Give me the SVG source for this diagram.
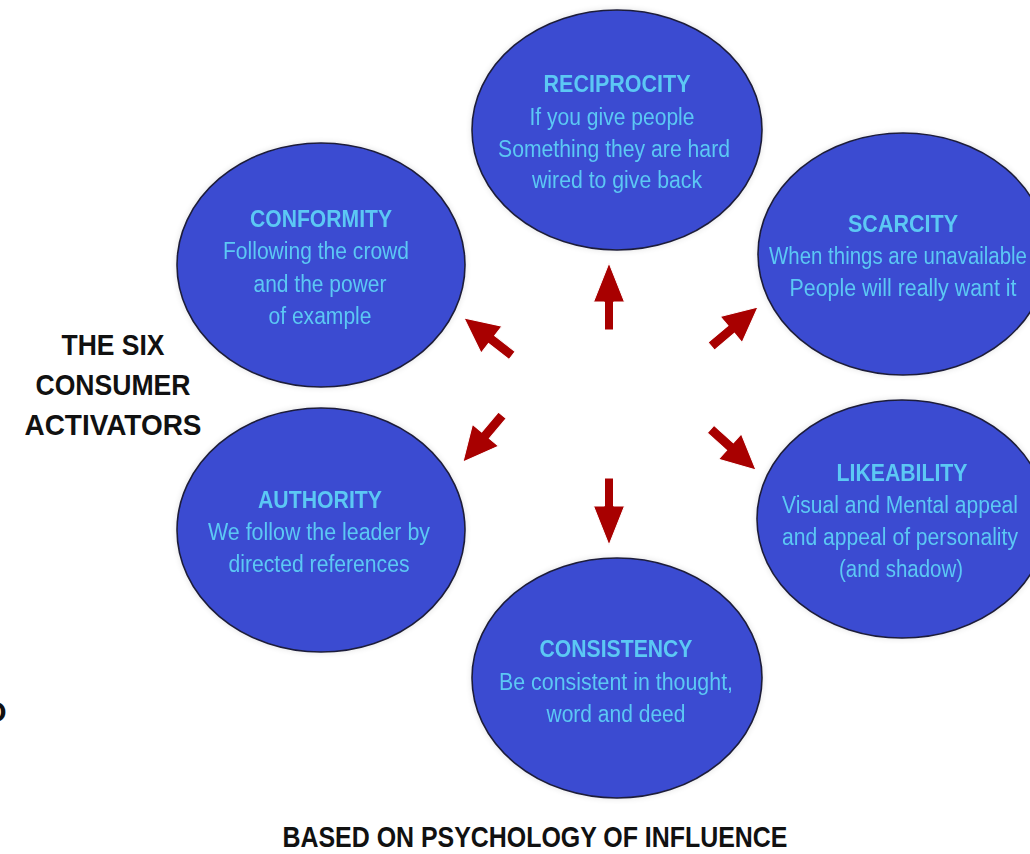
<svg xmlns="http://www.w3.org/2000/svg" width="1030" height="854" viewBox="0 0 1030 854">
<defs>
<style>
.node ellipse{fill:#3a4bd1;stroke:#1e1e3a;stroke-width:1.6}
.t{font-family:"Liberation Sans",Arial,sans-serif;font-weight:bold;font-size:23px;fill:#5cc8f4;text-anchor:middle}
.b{font-family:"Liberation Sans",Arial,sans-serif;font-size:23px;fill:#5cc8f4;text-anchor:middle}
.k{font-family:"Liberation Sans",Arial,sans-serif;font-weight:bold;font-size:30px;fill:#111;text-anchor:middle}
.arr{fill:#a80000;stroke:#fff;stroke-width:1}
</style>
<filter id="glow" x="-10%" y="-10%" width="120%" height="120%">
<feGaussianBlur in="SourceAlpha" stdDeviation="3"/>
<feComponentTransfer><feFuncA type="linear" slope="0.12"/></feComponentTransfer>
<feMerge><feMergeNode/><feMergeNode in="SourceGraphic"/></feMerge>
</filter>
<path id="av" d="M0,0 L15.5,39 L4.5,39 L4.5,67 L-4.5,67 L-4.5,39 L-15.5,39 Z"/>
<path id="ad" d="M0,0 L17,35 L5,35 L5,61 L-5,61 L-5,35 L-17,35 Z"/>
</defs>
<rect width="1030" height="854" fill="#fff"/>

<g id="reciprocity" class="node" filter="url(#glow)">
<ellipse cx="617" cy="130" rx="145" ry="120"/>
<text class="t" x="617" y="92" textLength="147" lengthAdjust="spacingAndGlyphs">RECIPROCITY</text>
<text class="b" x="612" y="125" textLength="165" lengthAdjust="spacingAndGlyphs">If you give people</text>
<text class="b" x="614" y="157" textLength="232" lengthAdjust="spacingAndGlyphs">Something they are hard</text>
<text class="b" x="617" y="188" textLength="170" lengthAdjust="spacingAndGlyphs">wired to give back</text>
</g>

<g id="scarcity" class="node" filter="url(#glow)">
<ellipse cx="903" cy="254" rx="145" ry="121"/>
<text class="t" x="903" y="232" textLength="110" lengthAdjust="spacingAndGlyphs">SCARCITY</text>
<text class="b" x="898" y="264" textLength="258" lengthAdjust="spacingAndGlyphs">When things are unavailable</text>
<text class="b" x="903" y="296" textLength="227" lengthAdjust="spacingAndGlyphs">People will really want it</text>
</g>

<g id="conformity" class="node" filter="url(#glow)">
<ellipse cx="321" cy="265" rx="144" ry="122"/>
<text class="t" x="321" y="227" textLength="142" lengthAdjust="spacingAndGlyphs">CONFORMITY</text>
<text class="b" x="316" y="259" textLength="186" lengthAdjust="spacingAndGlyphs">Following the crowd</text>
<text class="b" x="320" y="292" textLength="133" lengthAdjust="spacingAndGlyphs">and the power</text>
<text class="b" x="320" y="324" textLength="103" lengthAdjust="spacingAndGlyphs">of example</text>
</g>

<g id="authority" class="node" filter="url(#glow)">
<ellipse cx="321" cy="530" rx="144" ry="122"/>
<text class="t" x="320" y="508" textLength="124" lengthAdjust="spacingAndGlyphs">AUTHORITY</text>
<text class="b" x="319" y="540" textLength="222" lengthAdjust="spacingAndGlyphs">We follow the leader by</text>
<text class="b" x="319" y="572" textLength="181" lengthAdjust="spacingAndGlyphs">directed references</text>
</g>

<g id="consistency" class="node" filter="url(#glow)">
<ellipse cx="617" cy="678" rx="145" ry="120"/>
<text class="t" x="616" y="657" textLength="153" lengthAdjust="spacingAndGlyphs">CONSISTENCY</text>
<text class="b" x="616" y="690" textLength="234" lengthAdjust="spacingAndGlyphs">Be consistent in thought,</text>
<text class="b" x="616" y="722" textLength="139" lengthAdjust="spacingAndGlyphs">word and deed</text>
</g>

<g id="likeability" class="node" filter="url(#glow)">
<ellipse cx="902" cy="519" rx="145" ry="119"/>
<text class="t" x="902" y="481" textLength="131" lengthAdjust="spacingAndGlyphs">LIKEABILITY</text>
<text class="b" x="900" y="513" textLength="236" lengthAdjust="spacingAndGlyphs">Visual and Mental appeal</text>
<text class="b" x="900" y="545" textLength="236" lengthAdjust="spacingAndGlyphs">and appeal of personality</text>
<text class="b" x="901" y="577" textLength="124" lengthAdjust="spacingAndGlyphs">(and shadow)</text>
</g>

<g id="connectors" class="arr">
<use href="#av" transform="translate(609,263)"/>
<use href="#av" transform="translate(609,545) rotate(180)"/>
<use href="#ad" transform="translate(464,318) rotate(-52)"/>
<use href="#ad" transform="translate(758,307) rotate(50)"/>
<use href="#ad" transform="translate(463,462) rotate(-140)"/>
<use href="#ad" transform="translate(756,470) rotate(132)"/>
</g>

<g id="labels">
<text class="k" x="113" y="355" textLength="103" lengthAdjust="spacingAndGlyphs">THE SIX</text>
<text class="k" x="113" y="395" textLength="155" lengthAdjust="spacingAndGlyphs">CONSUMER</text>
<text class="k" x="113" y="435" textLength="177" lengthAdjust="spacingAndGlyphs">ACTIVATORS</text>
<text class="k" x="535" y="847" textLength="505" lengthAdjust="spacingAndGlyphs">BASED ON PSYCHOLOGY OF INFLUENCE</text>
<text class="k" x="-5" y="722" style="text-anchor:middle">O</text>
</g>
</svg>
